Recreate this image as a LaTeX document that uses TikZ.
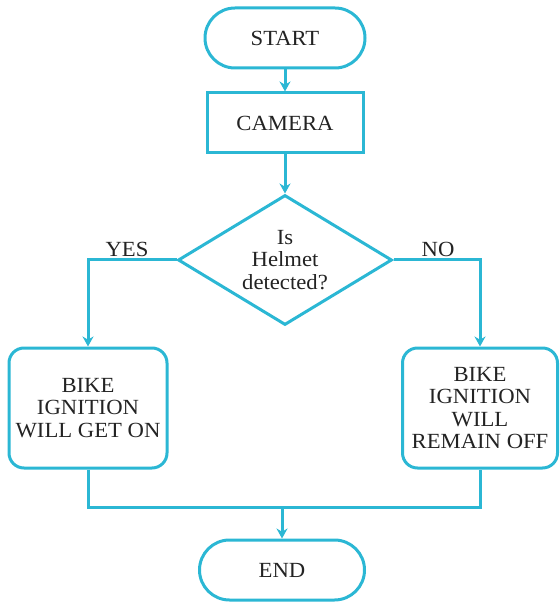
\documentclass[tikz,border=0pt]{standalone}
\usepackage{fontspec}
\setmainfont[FakeStretch=1.05]{Liberation Serif}
\usetikzlibrary{shapes.geometric,arrows.meta}
\definecolor{flowcyan}{RGB}{43,183,212}
\definecolor{flowtext}{RGB}{35,35,35}
\tikzset{
  terminal/.style={draw=flowcyan, line width=1.5pt, rounded corners=15pt, minimum height=30pt, inner sep=0pt},
  process/.style={draw=flowcyan, line width=1.5pt, minimum width=78pt, minimum height=30pt, inner sep=0pt},
  decision/.style={draw=flowcyan, line width=1.5pt, shape=diamond, aspect=1.65, inner sep=0pt, minimum width=107pt, minimum height=65pt, align=center},
  outcome/.style={draw=flowcyan, line width=1.5pt, rounded corners=7.5pt, minimum height=60pt, inner sep=0pt, align=center},
  flow/.style={draw=flowcyan, line width=1.5pt, -{Stealth[length=5pt,width=5.5pt]}},
  link/.style={draw=flowcyan, line width=1.5pt},
}
\begin{document}
\begin{tikzpicture}[x=0.5pt, y=-0.5pt, font=\fontsize{10.8}{11.2}\selectfont, text=flowtext]
\useasboundingbox (0,0) rectangle (559,603);
        \node[terminal, minimum width=80pt] (start) at (285,38) {START};
        \node[process] (camera) at (285,123) {CAMERA};
        \node[decision] (helmet) at (285,260) {Is\\Helmet\\detected?};
        \node[outcome, minimum width=79pt] (geton) at (88,408) {BIKE\\IGNITION\\WILL GET ON};
        \node[outcome, minimum width=77.5pt] (remainoff) at (480,408) {BIKE\\IGNITION\\WILL\\REMAIN OFF};
        \node[terminal, minimum width=82.5pt] (end) at (282,570) {END};
        \coordinate (join) at (282,507);
        \node (yes) at (127,249) {YES};
        \node (no) at (438,249) {NO};
        \draw[flow] (start) -- (camera);
        \draw[flow] (camera) -- (helmet);
        \draw[flow] (helmet.west) -| (geton);
        \draw[flow] (helmet.east) -| (remainoff);
        \draw[link] (geton.south) |- (join) -| (remainoff.south);
        \draw[flow] (join) -- (end);
\end{tikzpicture}
\end{document}
